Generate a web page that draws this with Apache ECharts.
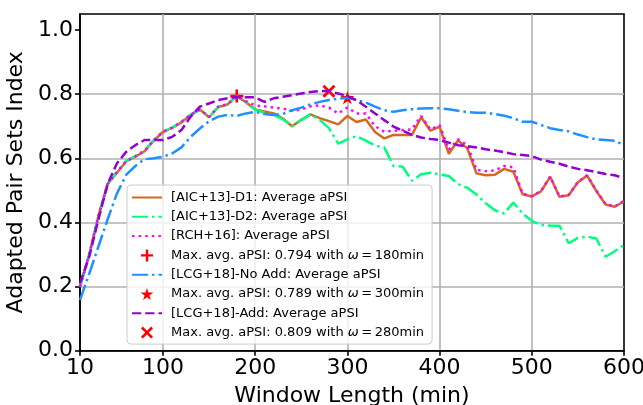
<!DOCTYPE html>
<html><head><meta charset="utf-8">
<script src="https://cdn.jsdelivr.net/npm/echarts@6/dist/echarts.min.js"></script>
<style>html,body{margin:0;padding:0;background:#fff}#c{width:643px;height:405px}</style>
</head><body><div id="c"></div><script>
const windowLengths = [10,20,30,40,50,60,70,80,90,100,110,120,130,140,150,160,170,180,190,200,
  210,220,230,240,250,260,270,280,290,300,310,320,330,340,350,360,370,380,390,400,
  410,420,430,440,450,460,470,480,490,500,510,520,530,540,550,560,570,580,590,600];
const aicD1 = [0.200,0.300,0.420,0.520,0.555,0.590,0.605,0.622,0.655,0.682,0.695,0.712,0.735,0.752,0.728,0.760,0.768,0.794,0.775,0.752,
  0.746,0.740,0.724,0.700,0.720,0.737,0.725,0.716,0.706,0.732,0.713,0.721,0.682,0.662,0.673,0.673,0.673,0.728,0.686,0.699,
  0.614,0.656,0.631,0.553,0.547,0.549,0.567,0.558,0.488,0.481,0.497,0.542,0.480,0.485,0.525,0.546,0.498,0.456,0.449,0.466];
const aicD2 = [0.200,0.300,0.420,0.520,0.558,0.592,0.607,0.624,0.657,0.683,0.696,0.714,0.737,0.752,0.728,0.760,0.768,0.794,0.775,0.752,
  0.742,0.735,0.722,0.700,0.720,0.737,0.720,0.694,0.646,0.659,0.669,0.655,0.640,0.634,0.576,0.574,0.530,0.550,0.555,0.550,
  0.545,0.520,0.508,0.487,0.460,0.438,0.428,0.462,0.428,0.405,0.392,0.390,0.390,0.335,0.352,0.356,0.350,0.293,0.310,0.330];
const rch16 = [0.200,0.300,0.420,0.520,0.556,0.591,0.606,0.623,0.656,0.683,0.696,0.713,0.736,0.752,0.729,0.761,0.769,0.794,0.778,0.765,
  0.762,0.758,0.755,0.748,0.752,0.762,0.765,0.758,0.740,0.758,0.740,0.740,0.700,0.683,0.686,0.688,0.690,0.732,0.690,0.703,
  0.627,0.659,0.641,0.564,0.560,0.562,0.576,0.572,0.490,0.482,0.498,0.543,0.481,0.486,0.526,0.547,0.499,0.457,0.450,0.467];
const lcgNoAdd = [0.158,0.240,0.325,0.410,0.490,0.548,0.576,0.597,0.600,0.605,0.615,0.634,0.667,0.693,0.716,0.730,0.735,0.732,0.740,0.745,
  0.738,0.735,0.738,0.750,0.758,0.768,0.776,0.782,0.786,0.789,0.782,0.774,0.761,0.750,0.745,0.750,0.753,0.755,0.756,0.756,
  0.753,0.748,0.744,0.742,0.742,0.738,0.733,0.725,0.714,0.714,0.704,0.694,0.688,0.684,0.674,0.666,0.659,0.657,0.655,0.641];
const lcgAdd = [0.210,0.293,0.410,0.520,0.584,0.620,0.641,0.657,0.657,0.657,0.667,0.688,0.730,0.761,0.771,0.782,0.787,0.792,0.790,0.790,
  0.776,0.787,0.792,0.797,0.802,0.807,0.810,0.809,0.802,0.794,0.781,0.761,0.740,0.719,0.699,0.686,0.673,0.665,0.660,0.657,
  0.649,0.641,0.638,0.634,0.628,0.624,0.619,0.613,0.610,0.607,0.596,0.589,0.583,0.574,0.567,0.563,0.557,0.551,0.547,0.538];
const maxD1 = [180, 0.794];
const maxNoAdd = [300, 0.789];
const maxAdd = [280, 0.809];
const xTicks = [10,100,200,300,400,500,600];
const yTicks = [0,0.2,0.4,0.6,0.8,1.0];
const names = ['[AIC+13]-D1: Average aPSI','[AIC+13]-D2: Average aPSI','[RCH+16]: Average aPSI',
  'Max. avg. aPSI: 0.794 with ω\u2009=\u2009180min','[LCG+18]-No Add: Average aPSI',
  'Max. avg. aPSI: 0.789 with ω\u2009=\u2009300min','[LCG+18]-Add: Average aPSI',
  'Max. avg. aPSI: 0.809 with ω\u2009=\u2009280min'];
const lineNames = [names[0], names[1], names[2], names[4], names[6]];

const FONT = 'DejaVu Sans';
const LW = 2.5;
const pair = arr => windowLengths.map((w, i) => [w, arr[i]]);
const plusPath = 'path://M40,0H60V40H100V60H60V100H40V60H0V40H40Z';
const xPath = 'path://M15,0L50,35L85,0L100,15L65,50L100,85L85,100L50,65L15,100L0,85L35,50L0,15Z';
const starPath = 'path://M50,0L61.23,34.55L97.55,34.55L68.17,55.9L79.39,90.45L50,69.1L20.61,90.45L31.83,55.9L2.45,34.55L38.77,34.55Z';

function lineSeries(name, arr, color, type) {
  return { name, type: 'line', data: pair(arr), symbol: 'none', showSymbol: false,
    lineStyle: { color, width: LW, type, cap: 'butt' }, itemStyle: { color }, animation: false };
}
function markSeries(name, pt, path, size) {
  return { name, type: 'scatter', data: [pt], symbol: path, symbolSize: size, symbolKeepAspect: true,
    itemStyle: { color: '#ff0000', opacity: 1 }, animation: false };
}

const chart = echarts.init(document.getElementById('c'), null, { renderer: 'canvas' });
chart.setOption({
  animation: false,
  backgroundColor: '#ffffff',
  textStyle: { fontFamily: FONT },
  grid: { left: 80, right: 19, top: 14, bottom: 54.3, show: true, borderColor: '#000', borderWidth: 1.6,
    backgroundColor: 'transparent', containLabel: false, outerBoundsMode: 'none' },
  xAxis: {
    type: 'value', min: 10, max: 600,
    name: 'Window Length (min)', nameLocation: 'middle', nameGap: 35,
    nameTextStyle: { fontSize: 22, color: '#000', fontFamily: FONT },
    axisLine: { show: true, lineStyle: { color: '#000', width: 1.6 } },
    axisTick: { show: true, length: 5, customValues: xTicks, lineStyle: { color: '#000', width: 1.6 } },
    axisLabel: { customValues: xTicks, margin: 7, fontSize: 22, color: '#000', fontFamily: FONT, formatter: v => String(v) },
    splitLine: { show: true, showMinLine: false, showMaxLine: false, lineStyle: { color: '#b0b0b0', width: 1.6 } }
  },
  yAxis: {
    type: 'value', min: 0, max: 1.05,
    name: 'Adapted Pair Sets Index', nameLocation: 'middle', nameGap: 48,
    nameTextStyle: { fontSize: 22, color: '#000', fontFamily: FONT },
    axisLine: { show: true, lineStyle: { color: '#000', width: 1.6 } },
    axisTick: { show: true, length: 5, customValues: yTicks, lineStyle: { color: '#000', width: 1.6 } },
    axisLabel: { customValues: yTicks, margin: 7, fontSize: 22, color: '#000', fontFamily: FONT, formatter: v => v.toFixed(1) },
    splitLine: { show: true, showMinLine: false, showMaxLine: false, lineStyle: { color: '#b0b0b0', width: 1.6 } }
  },
  legend: {
    orient: 'vertical', left: 127, top: 185,
    itemWidth: 30, itemHeight: 12, itemGap: 6.3,
    padding: [6, 8, 5, 4],
    backgroundColor: 'rgba(255,255,255,0.8)', borderColor: '#cccccc', borderWidth: 1, borderRadius: 4,
    data: names.map(n => lineNames.includes(n) ? { name: n, itemStyle: { opacity: 0 } } : { name: n, itemStyle: { opacity: 1 } }),
    formatter: n => n.replace('ω', '{w|ω}'),
    textStyle: { fontSize: 13, color: '#000', fontFamily: FONT, padding: [0, 0, 0, 4],
      rich: { w: { fontSize: 13, fontStyle: 'italic', fontFamily: FONT, color: '#000' } } }
  },
  series: [
    lineSeries(names[0], aicD1, '#d2691e', 'solid'),
    lineSeries(names[1], aicD2, '#00ff7f', [16, 4, 2.5, 4]),
    lineSeries(names[2], rch16, '#ff00ff', [2.5, 4.1]),
    markSeries(names[3], maxD1, plusPath, 13),
    lineSeries(names[4], lcgNoAdd, '#1e90ff', [16, 4, 2.5, 4]),
    markSeries(names[5], maxNoAdd, starPath, 14),
    lineSeries(names[6], lcgAdd, '#9400d3', [9.25, 4]),
    markSeries(names[7], maxAdd, xPath, 13)
  ]
});
</script></body></html>
